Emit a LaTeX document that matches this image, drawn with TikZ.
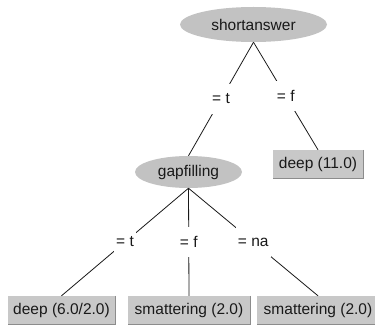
\documentclass[tikz,border=0pt]{standalone}
\usepackage{fontspec}
\setmainfont{Liberation Sans}
\usetikzlibrary{shapes.geometric}
\definecolor{splitfill}{RGB}{194,194,194}
\definecolor{leaffill}{RGB}{200,200,200}
\definecolor{leafedge}{RGB}{140,140,140}
\definecolor{ink}{RGB}{25,25,25}
\tikzset{
  every node/.style={font=\fontsize{15.5}{18}\selectfont, text=ink},
  split/.style={ellipse, fill=splitfill, inner sep=0pt},
  leaf/.style={rectangle, fill=leaffill, inner sep=0pt, minimum height=28pt},
  branch/.style={draw=ink, line width=0.8pt},
  cond/.style={fill=white, inner xsep=2pt, inner ysep=0pt, minimum height=30pt, pos=0.5},
  rim/.style={draw=leafedge, line width=0.9pt}
}
\begin{document}
\begin{tikzpicture}[x=1pt, y=-1pt]
  \useasboundingbox (0,0) rectangle (375,326);
  \fill[white] (0,0) rectangle (375,326);
  \clip (0,0) rectangle (375,326);

  % decision nodes
  \node[split, minimum width=147pt, minimum height=35pt] (root) at (253.5,24.5) {shortanswer};
  \node[split, minimum width=107pt, minimum height=32pt] (gap) at (188.5,172) {gapfilling};

  % leaves
  \node[leaf, minimum width=90pt]  (l11)  at (318,164)   {deep (11.0)};
  \node[leaf, minimum width=107pt] (l62)  at (61.5,310)  {deep (6.0/2.0)};
  \node[leaf, minimum width=122pt] (sm1)  at (189,310)   {smattering (2.0)};
  \node[leaf, minimum width=122pt] (sm2)  at (318,310)   {smattering (2.0)};

  % raised edge on the leaf boxes
  \foreach \b in {l11,l62,sm1,sm2}{
    \draw[rim] (\b.north east) -- (\b.south east) -- (\b.south west);
  }

  % branches with their conditions
  \draw[branch] (root.south) -- node[cond] {= t} (gap.north);
  \draw[branch] (root.south) -- node[cond] {= f} (l11.north);
  \draw[branch] (gap.south) -- node[cond] {= t} (l62.north);
  \draw[branch] (gap.south) -- node[cond] {= f} (sm1.north);
  \draw[branch] (gap.south) -- node[cond] {= na} (sm2.north);
\end{tikzpicture}
\end{document}
